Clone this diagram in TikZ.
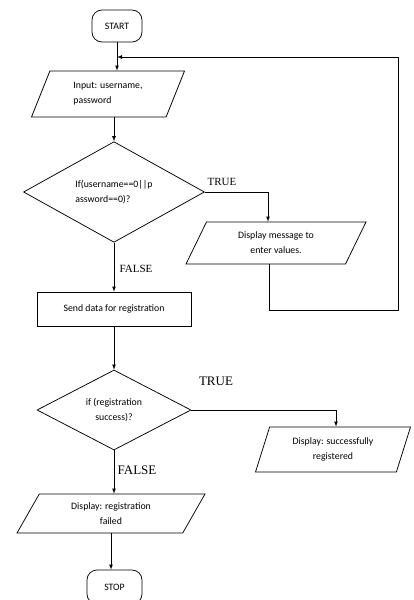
\documentclass[tikz,border=0pt]{standalone}
\usepackage{fontspec}
\newfontfamily\calfont{Carlito}
\newfontfamily\timesfont{Liberation Serif}
\usetikzlibrary{arrows, shapes, positioning}

\begin{document}
\begin{tikzpicture}[x=1pt,y=-1pt,>=latex,line width=0.75pt,
 font=\calfont\fontsize{9.8}{15}\selectfont,
 term node/.style={rectangle,draw,rounded corners=10pt,minimum width=50pt,minimum height=32pt},
 io node/.style={trapezium,draw,trapezium stretches body,inner sep=1pt},
 decision node/.style={diamond,draw,inner sep=0pt},
 proc node/.style={rectangle,draw,minimum width=154pt,minimum height=34pt},
 lbl/.style={font=\timesfont\fontsize{11}{11}\selectfont}]
  \useasboundingbox (0,0) rectangle (414,600);

  \node[term node] (start) at (117,26) {START};
  \node[io node,trapezium left angle=53.5,trapezium right angle=126.5,
   minimum width=153pt,minimum height=46pt,align=left] (input) at (108,94) {Input: username,\\password};
  \node[decision node,minimum width=181pt,minimum height=80pt,align=left] (dec1) at (114,192) {If(username==0||p\\assword==0)?};
  \node[io node,trapezium left angle=49.4,trapezium right angle=130.6,
   minimum width=180pt,minimum height=42pt,align=center] (msg) at (276,243) {Display message to\\enter values.};
  \node[proc node] (send) at (114,309) {Send data for registration};
  \node[decision node,minimum width=154pt,minimum height=80pt,align=center] (dec2) at (114,410) {if (registration\\success)?};
  \node[io node,trapezium left angle=61,trapezium right angle=119,
   minimum width=155pt,minimum height=45pt,align=center] (succ) at (333,449.5) {Display: successfully\\registered};
  \node[io node,trapezium left angle=47,trapezium right angle=133,
   minimum width=188pt,minimum height=39pt,align=center] (fail) at (111,513.5) {Display: registration\\failed};
  \node[term node,minimum width=55pt,minimum height=34pt] (stop) at (114.5,587) {STOP};

  \coordinate (back) at (398,310);
  \coordinate (join) at (117,57);

  \draw[->] (start) -- (start |- input.north);
  \draw[->] (input.south -| dec1.north) -- (dec1.north);
  \draw[->] (dec1.east) -| ([xshift=-8pt]msg.north);
  \draw[->] ([xshift=-7pt]msg.south) |- (back) |- (join);
  \draw[->] (dec1.south) -- (send.north);
  \draw[->] (send.south) -- (dec2.north);
  \draw[->] (dec2.east) -| ([xshift=3pt]succ.north);
  \draw[->] (dec2.south) -- (dec2.south |- fail.north);
  \draw[->] (fail.south) -- (fail.south |- stop.north);

  \node[lbl] (t1) at (222,182) {TRUE};
  \node[lbl] (f1) at (136,269) {FALSE};
  \node[lbl,font=\timesfont\fontsize{13}{13}\selectfont] (t2) at (216,381) {TRUE};
  \node[lbl,font=\timesfont\fontsize{13}{13}\selectfont] (f2) at (137,470) {FALSE};
\end{tikzpicture}
\end{document}
